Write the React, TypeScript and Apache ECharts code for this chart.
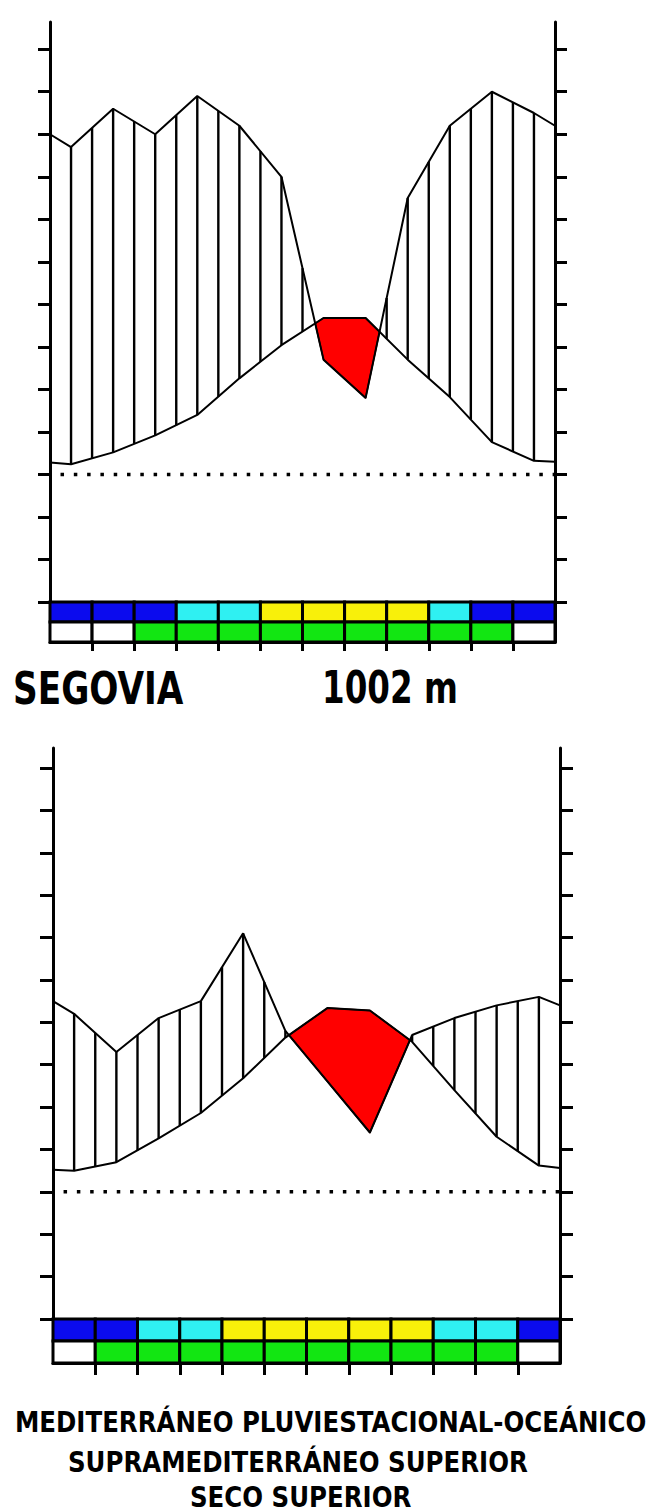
import React, { useEffect, useRef } from 'react';
import * as echarts from 'echarts';

// ---------- DATA ----------
const months = ['Ene', 'Feb', 'Mar', 'Abr', 'May', 'Jun', 'Jul', 'Ago', 'Sep', 'Oct', 'Nov', 'Dic'];

// Upper diagram (°C and mm, mm scale = 2 x °C)
const upperTemp = [1.2, 2.6, 4.6, 7.0, 11.3, 15.2, 18.4, 18.4, 13.5, 9.1, 3.8, 1.6];
const upperTempEdges = [1.4, 1.5];
const upperPrec = [77, 86, 80, 89, 82, 70, 27, 18, 65, 82, 90, 85];
const upperPrecEdges = [80, 82];
const upperActivity = ['B', 'B', 'B', 'C', 'C', 'Y', 'Y', 'Y', 'Y', 'C', 'B', 'B'];
const upperVegetation = ['W', 'W', 'G', 'G', 'G', 'G', 'G', 'G', 'G', 'G', 'G', 'W'];

// Lower diagram (Segovia)
const lowerTemp = [2.5, 3.5, 6.3, 9.3, 13.4, 18.2, 21.7, 21.4, 17.7, 12.0, 6.5, 3.1];
const lowerTempEdges = [2.6, 2.8];
const lowerPrec = [42, 33, 41, 45, 61, 38, 26, 14, 37, 41, 44, 46];
const lowerPrecEdges = [45, 44];
const lowerActivity = ['B', 'B', 'C', 'C', 'Y', 'Y', 'Y', 'Y', 'Y', 'C', 'C', 'B'];
const lowerVegetation = ['W', 'G', 'G', 'G', 'G', 'G', 'G', 'G', 'G', 'G', 'G', 'W'];

const tempTicks = [-15, -10, -5, 0, 5, 10, 15, 20, 25, 30, 35, 40, 45, 50];
const precTicks = tempTicks.map((v) => v * 2);
const monthBoundaries = [1, 2, 3, 4, 5, 6, 7, 8, 9, 10, 11];

const stationName = 'SEGOVIA';
const altitude = '1002 m';
const bioLines = ['MEDITERRÁNEO PLUVIESTACIONAL-OCEÁNICO', 'SUPRAMEDITERRÁNEO SUPERIOR', 'SECO SUPERIOR'];

// ---------- HELPERS ----------
const cellColors: Record<string, string> = {
  B: '#0b0bee',
  C: '#2ff0f2',
  Y: '#f8f00a',
  G: '#12e612',
  W: '#ffffff',
};

type Pt = [number, number];

function curve(vals: number[], edges: number[], scale = 1): Pt[] {
  const pts: Pt[] = [[0, edges[0] * scale]];
  vals.forEach((v, i) => pts.push([i + 0.5, v * scale]));
  pts.push([12, edges[1] * scale]);
  return pts;
}

function valueAt(pts: Pt[], x: number): number {
  for (let i = 0; i < pts.length - 1; i++) {
    const [xa, ya] = pts[i];
    const [xb, yb] = pts[i + 1];
    if (x >= xa && x <= xb) {
      return ya + ((yb - ya) * (x - xa)) / (xb - xa);
    }
  }
  return pts[pts.length - 1][1];
}

function dryPolygons(tPts: Pt[], pPts: Pt[]): Pt[][] {
  // pPts already in temperature units
  const xs = tPts.map((p) => p[0]);
  const polys: Pt[][] = [];
  let top: Pt[] = [];
  let bot: Pt[] = [];
  let inDry = false;
  const d = (x: number) => valueAt(tPts, x) - valueAt(pPts, x);
  for (let i = 0; i < xs.length; i++) {
    const x = xs[i];
    const dx = d(x);
    if (i > 0) {
      const xp = xs[i - 1];
      const dp = d(xp);
      if ((dp <= 0 && dx > 0) || (dp > 0 && dx <= 0)) {
        const xc = xp + ((x - xp) * dp) / (dp - dx);
        const yc = valueAt(tPts, xc);
        top.push([xc, yc]);
        bot.push([xc, yc]);
        if (inDry) {
          polys.push(top.concat(bot.slice().reverse()));
          top = [];
          bot = [];
          inDry = false;
        } else {
          inDry = true;
        }
      }
    } else if (dx > 0) {
      inDry = true;
    }
    if (dx > 0) {
      top.push([x, valueAt(tPts, x)]);
      bot.push([x, valueAt(pPts, x)]);
    }
  }
  if (inDry && top.length) polys.push(top.concat(bot.slice().reverse()));
  return polys;
}

interface Diagram {
  temp: number[];
  tempEdges: number[];
  prec: number[];
  precEdges: number[];
  activity: string[];
  vegetation: string[];
  grid: { left: number; top: number; width: number; height: number };
  yMin: number;
  yMax: number;
  stripTop: number;
  stripMid: number;
  tickLen: number;
  xTickLen: number;
}

const diagrams: Diagram[] = [
  {
    temp: upperTemp,
    tempEdges: upperTempEdges,
    prec: upperPrec,
    precEdges: upperPrecEdges,
    activity: upperActivity,
    vegetation: upperVegetation,
    grid: { left: 50, top: 22, width: 505, height: 620 },
    yMin: -19.7,
    yMax: 53.2,
    stripTop: -15,
    stripMid: -17.35,
    tickLen: 12,
    xTickLen: 9,
  },
  {
    temp: lowerTemp,
    tempEdges: lowerTempEdges,
    prec: lowerPrec,
    precEdges: lowerPrecEdges,
    activity: lowerActivity,
    vegetation: lowerVegetation,
    grid: { left: 53, top: 748, width: 507, height: 615 },
    yMin: -20.19,
    yMax: 52.36,
    stripTop: -15,
    stripMid: -17.6,
    tickLen: 13,
    xTickLen: 12,
  },
];

function buildOption() {
  const grids: any[] = [];
  const xAxes: any[] = [];
  const yAxes: any[] = [];
  const series: any[] = [];

  diagrams.forEach((dg, g) => {
    grids.push({ ...dg.grid, containLabel: false, outerBoundsMode: 'none' });
    xAxes.push({
      gridIndex: g,
      type: 'value',
      min: 0,
      max: 12,
      position: 'bottom',
      axisLine: { show: true, onZero: false, lineStyle: { color: '#000', width: 3 } },
      axisTick: {
        show: true,
        customValues: monthBoundaries,
        length: dg.xTickLen,
        inside: false,
        lineStyle: { color: '#000', width: 3 },
      },
      axisLabel: { show: false },
      splitLine: { show: false },
    });
    yAxes.push({
      gridIndex: g,
      type: 'value',
      position: 'left',
      min: dg.yMin,
      max: dg.yMax,
      axisLine: { show: true, onZero: false, lineStyle: { color: '#000', width: 3 } },
      axisTick: {
        show: true,
        customValues: tempTicks,
        length: dg.tickLen,
        inside: false,
        lineStyle: { color: '#000', width: 3 },
      },
      axisLabel: { show: false },
      splitLine: { show: false },
    });
    yAxes.push({
      gridIndex: g,
      type: 'value',
      position: 'right',
      min: dg.yMin * 2,
      max: dg.yMax * 2,
      axisLine: { show: true, onZero: false, lineStyle: { color: '#000', width: 3 } },
      axisTick: {
        show: true,
        customValues: precTicks,
        length: dg.tickLen,
        inside: false,
        lineStyle: { color: '#000', width: 3 },
      },
      axisLabel: { show: false },
      splitLine: { show: false },
    });

    const tPts = curve(dg.temp, dg.tempEdges);
    const pPts = curve(dg.prec, dg.precEdges);
    const pPtsT = curve(dg.prec, dg.precEdges, 0.5);
    const yL = g * 2;
    const yR = g * 2 + 1;

    // Strip of months (activity / vegetation)
    series.push({
      type: 'custom',
      xAxisIndex: g,
      yAxisIndex: yL,
      silent: true,
      z: 3,
      data: months.map((m, i) => [i, 0]),
      renderItem: (params: any, api: any) => {
        const i = api.value(0);
        const a = api.coord([i, dg.stripTop]);
        const b = api.coord([i + 1, dg.stripMid]);
        const c = api.coord([i + 1, dg.yMin]);
        return {
          type: 'group',
          children: [
            {
              type: 'rect',
              shape: { x: a[0], y: a[1], width: b[0] - a[0], height: b[1] - a[1] },
              style: { fill: cellColors[dg.activity[i]], stroke: '#000', lineWidth: 3 },
            },
            {
              type: 'rect',
              shape: { x: a[0], y: b[1], width: c[0] - a[0], height: c[1] - b[1] },
              style: { fill: cellColors[dg.vegetation[i]], stroke: '#000', lineWidth: 3 },
            },
          ],
        };
      },
    });

    // Dry period (red)
    series.push({
      type: 'custom',
      xAxisIndex: g,
      yAxisIndex: yL,
      silent: true,
      z: 2,
      data: [[0, 0]],
      renderItem: (params: any, api: any) => {
        const polys = dryPolygons(tPts, pPtsT);
        return {
          type: 'group',
          children: polys.map((poly) => ({
            type: 'polygon',
            shape: { points: poly.map((p) => api.coord(p)) },
            style: { fill: '#ff0000', stroke: '#3a0000', lineWidth: 1.5 },
          })),
        };
      },
    });

    // Humid period (vertical hatching every half month)
    const halfMonths: number[] = [];
    for (let k = 1; k <= 23; k++) halfMonths.push(k * 0.5);
    series.push({
      type: 'custom',
      xAxisIndex: g,
      yAxisIndex: yL,
      silent: true,
      z: 2,
      data: halfMonths.map((x) => [x, 0]),
      renderItem: (params: any, api: any) => {
        const x = api.value(0);
        const t = valueAt(tPts, x);
        const p = valueAt(pPtsT, x);
        if (p <= t) return { type: 'group', children: [] };
        const a = api.coord([x, p]);
        const b = api.coord([x, t]);
        return {
          type: 'line',
          shape: { x1: a[0], y1: a[1], x2: b[0], y2: b[1] },
          style: { stroke: '#000', lineWidth: 2.4 },
        };
      },
    });

    // 0 °C dotted line
    series.push({
      type: 'line',
      xAxisIndex: g,
      yAxisIndex: yL,
      silent: true,
      z: 2,
      showSymbol: false,
      symbol: 'none',
      data: [
        [0.25, 0],
        [12, 0],
      ],
      lineStyle: { color: '#000', width: 3.5, type: [3.5, 9.8] },
    });

    // Temperature curve
    series.push({
      type: 'line',
      xAxisIndex: g,
      yAxisIndex: yL,
      silent: true,
      z: 4,
      showSymbol: false,
      symbol: 'none',
      data: tPts,
      lineStyle: { color: '#000', width: 2 },
    });

    // Precipitation curve
    series.push({
      type: 'line',
      xAxisIndex: g,
      yAxisIndex: yR,
      silent: true,
      z: 4,
      showSymbol: false,
      symbol: 'none',
      data: pPts,
      lineStyle: { color: '#000', width: 2 },
    });
  });

  const font = (size: number) => `bold ${size}px "DejaVu Sans", Verdana, sans-serif`;
  const txt = (text: string, x: number, y: number, size: number, scaleX: number) => ({
    type: 'text',
    x,
    y,
    scaleX,
    style: { text, font: font(size), fill: '#000', align: 'left', verticalAlign: 'middle' },
  });

  const graphic = [
    txt(stationName, 13, 688, 44, 0.78),
    txt(altitude, 322, 688, 44, 0.74),
    txt(bioLines[0], 15, 1422, 27.5, 0.89),
    txt(bioLines[1], 68, 1462, 27.5, 0.89),
    txt(bioLines[2], 190, 1497, 27.5, 0.89),
  ];

  return {
    animation: false,
    backgroundColor: '#ffffff',
    grid: grids,
    xAxis: xAxes,
    yAxis: yAxes,
    series,
    graphic,
  };
}

export default function App() {
  const ref = useRef<HTMLDivElement>(null);
  useEffect(() => {
    if (!ref.current) return;
    const chart = echarts.init(ref.current, null, { renderer: 'svg' });
    chart.setOption(buildOption() as any);
    return () => {
      chart.dispose();
    };
  }, []);
  return (
    <div
      ref={ref}
      style={{ position: 'absolute', left: 0, top: 0, width: 657, height: 1512, background: '#fff' }}
    />
  );
}
